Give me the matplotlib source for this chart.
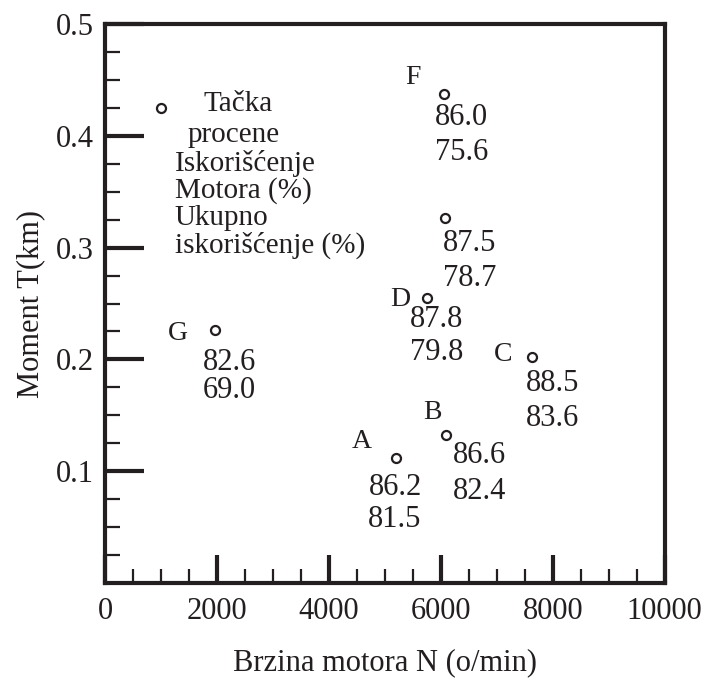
import matplotlib
matplotlib.use('Agg')
import matplotlib.pyplot as plt
from matplotlib.ticker import MultipleLocator

# Data
point_names = ['A', 'B', 'C', 'D', '', 'F', 'G']
speed_rpm = [5200, 6100, 7620, 5750, 6070, 6050, 1970]
torque_km = [0.112, 0.132, 0.202, 0.255, 0.327, 0.438, 0.226]
motor_eff = ['86.2', '86.6', '88.5', '87.8', '87.5', '86.0', '82.6']
total_eff = ['81.5', '82.4', '83.6', '79.8', '78.7', '75.6', '69.0']

legend_point = (1000, 0.425)
legend_lines = ['Tačka', 'procene', 'Iskorišćenje', 'Motora (%)', 'Ukupno', 'iskorišćenje (%)']

x_ticks = [0, 2000, 4000, 6000, 8000, 10000]
y_ticks = [0.1, 0.2, 0.3, 0.4, 0.5]

# label offsets in pixels: letter, first number, second number
offsets = {
    'A': ((-34, 16), (-1, -30), (-1, -62)),
    'B': ((-14, 23), (33, -20), (33, -56)),
    'C': ((-28, 3), (21, -26), (21, -61)),
    'D': ((-27, -2), (10, -22), (10, -55)),
    '': ((0, 0), (25, -26), (25, -61)),
    'F': ((-31, 16), (18, -24), (18, -59)),
    'G': ((-37, -3), (14, -32), (14, -60)),
}

plt.rcParams['font.family'] = ['Liberation Serif', 'DejaVu Serif']
FS = 22
ink = '#231f20'

fig = plt.figure(figsize=(7.14, 6.84), dpi=100)
ax = fig.add_axes([0.147, 0.148, 0.784, 0.8165])

ax.plot(speed_rpm, torque_km, linestyle='none', marker='o', markersize=6.5,
        markerfacecolor='white', markeredgecolor=ink, markeredgewidth=1.6)
ax.plot([legend_point[0]], [legend_point[1]], linestyle='none', marker='o', markersize=6.5,
        markerfacecolor='white', markeredgecolor=ink, markeredgewidth=1.6)

for name, x, y, m, t in zip(point_names, speed_rpm, torque_km, motor_eff, total_eff):
    off_l, off_m, off_t = offsets[name]
    if name:
        ax.annotate(name, (x, y), xytext=off_l, textcoords='offset pixels',
                    ha='center', va='center', fontsize=FS - 2, color=ink)
    ax.annotate(m, (x, y), xytext=off_m, textcoords='offset pixels',
                ha='center', va='center', fontsize=FS, color=ink)
    ax.annotate(t, (x, y), xytext=off_t, textcoords='offset pixels',
                ha='center', va='center', fontsize=FS, color=ink)

# legend-like block of text
ax.annotate(legend_lines[0], legend_point, xytext=(77, 4), textcoords='offset pixels',
            ha='center', va='center', fontsize=FS - 1, color=ink)
ax.annotate(legend_lines[1], legend_point, xytext=(73, -27), textcoords='offset pixels',
            ha='center', va='center', fontsize=FS - 1, color=ink)
for i, line in enumerate(legend_lines[2:]):
    ax.annotate(line, legend_point, xytext=(14, -55 - 27.5 * i), textcoords='offset pixels',
                ha='left', va='center', fontsize=FS - 1, color=ink)

ax.set_xlim(0, 10000)
ax.set_ylim(0, 0.5)
ax.set_xticks(x_ticks)
ax.set_yticks(y_ticks)
ax.set_xticklabels([str(v) for v in x_ticks])
ax.set_yticklabels([f'{v:.1f}' for v in y_ticks])
ax.xaxis.set_minor_locator(MultipleLocator(500))
ax.yaxis.set_minor_locator(MultipleLocator(0.025))

ax.tick_params(which='major', direction='in', width=3, color=ink, labelsize=FS,
               labelcolor=ink, top=False, right=False)
ax.tick_params(axis='x', which='major', length=20, pad=10)
ax.tick_params(axis='y', which='major', length=28, pad=8)
ax.tick_params(which='minor', direction='in', width=1.6, color=ink, top=False, right=False)
ax.tick_params(axis='x', which='minor', length=10)
ax.tick_params(axis='y', which='minor', length=11)

for s in ax.spines.values():
    s.set_linewidth(3)
    s.set_color(ink)

ax.set_xlabel('Brzina motora N (o/min)', fontsize=FS, color=ink, labelpad=16)
ax.set_ylabel('Moment T(km)', fontsize=FS, color=ink, labelpad=8)

fig.savefig('out.png', dpi=100)
